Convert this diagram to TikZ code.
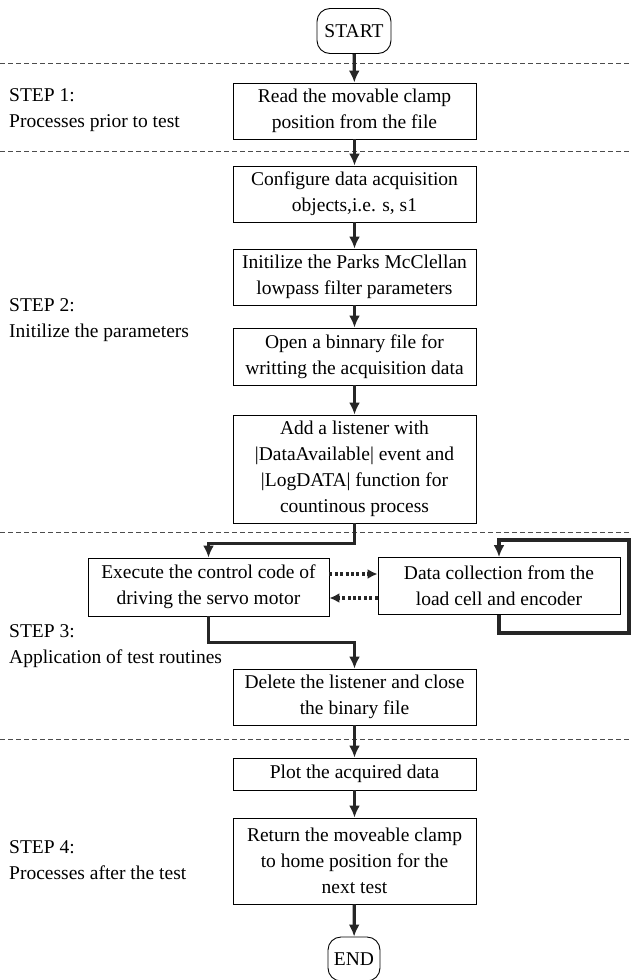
\documentclass[tikz,border=0pt]{standalone}
\usepackage{fontspec}
\setmainfont{Liberation Serif}
\usetikzlibrary{arrows.meta,positioning}
\begin{document}
\begin{tikzpicture}[x=1pt,y=-1pt,
  box/.style={draw,line width=0.9pt,minimum width=243pt,minimum height=56pt,inner sep=0pt,align=center,font=\fontsize{19.5}{26}\selectfont},
  term/.style={draw,line width=0.9pt,rounded corners=13pt,inner sep=0pt,font=\fontsize{19.5}{26}\selectfont},
  steplab/.style={anchor=west,align=left,inner sep=0pt,font=\fontsize{19.5}{26}\selectfont},
  flow/.style={line width=3.3pt,black!85,-{Latex[length=12pt,width=11pt]}},
  sync/.style={line width=3.3pt,black!85,dash pattern=on 3pt off 2.4pt,-{Latex[length=10pt,width=10pt]}},
  sep/.style={black!70,line width=0.9pt,dash pattern=on 5pt off 3pt}]
  \useasboundingbox (0,0) rectangle (631,980);
  \draw[sep] (0,63) -- (631,63);
  \draw[sep] (0,151) -- (631,151);
  \draw[sep] (0,532) -- (631,532);
  \draw[sep] (0,739) -- (631,739);
  \node[term,minimum width=74pt,minimum height=45pt] (start) at (354,31) {START};
  \node[box] (read) at (354.5,111) {Read the movable clamp\\position from the file};
  \node[box] (config) at (354.5,194) {Configure data acquisition\\objects,i.e. s, s1};
  \node[box] (filter) at (354.5,277) {Initilize the Parks McClellan\\lowpass filter parameters};
  \node[box,minimum height=57pt] (open) at (354.5,356.5) {Open a binnary file for\\writting the acquisition data};
  \node[box,minimum height=108pt] (listen) at (354.5,469) {Add a listener with\\|DataAvailable| event and\\|LogDATA| function for\\countinous process};
  \node[box,minimum width=241pt,minimum height=58pt] (drive) at (208.5,587) {Execute the control code of\\driving the servo motor};
  \node[box,minimum width=242pt,minimum height=57pt] (collect) at (499,586) {Data collection from the\\load cell and encoder};
  \node[box] (delete) at (354.5,697) {Delete the listener and close\\the binary file};
  \node[box,minimum height=32pt] (plot) at (354.5,774) {Plot the acquired data};
  \node[box,minimum height=86pt] (home) at (354.5,861) {Return the moveable clamp\\to home position for the\\next test};
  \node[term,minimum width=52pt,minimum height=44pt] (end) at (354,959) {END};
  \node[steplab] (s1) at (9,110) {STEP 1:\\Processes prior to test};
  \node[steplab] (s2) at (9,320) {STEP 2:\\Initilize the parameters};
  \node[steplab] (s3) at (9,646) {STEP 3:\\Application of test routines};
  \node[steplab] (s4) at (9,860) {STEP 4:\\Processes after the test};
  \coordinate (loop) at (629,540);
  \draw[flow] (start) -- (read);
  \draw[flow] (read) -- (config);
  \draw[flow] (config) -- (filter);
  \draw[flow] (filter) -- (open);
  \draw[flow] (open) -- (listen);
  \draw[flow] (listen.south) -- ++(0,20) -| (drive.north);
  \draw[sync] ([yshift=13pt]drive.east) -- ([yshift=13pt]drive.east -| collect.west);
  \draw[sync] ([yshift=-12pt]collect.west) -- ([yshift=-12pt]collect.west -| drive.east);
  \draw[flow] (collect.south) -- ++(0,18) -| (loop) -| (collect.north);
  \draw[flow] (drive.south) -- ++(0,26) -| (delete.north);
  \draw[flow] (delete) -- (plot);
  \draw[flow] (plot) -- (home);
  \draw[flow] (home) -- (end);
\end{tikzpicture}
\end{document}
